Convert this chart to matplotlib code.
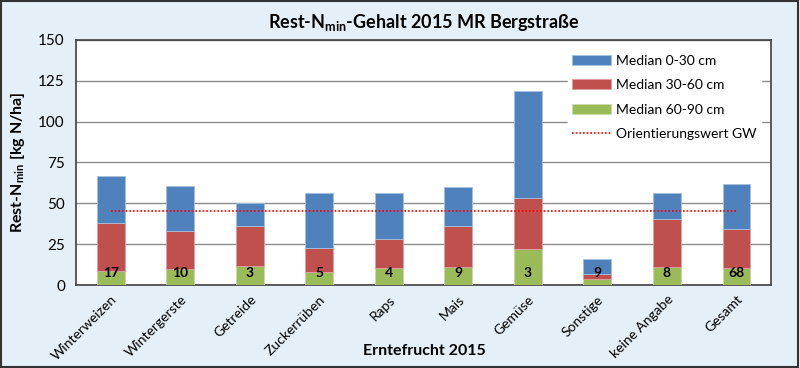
import matplotlib
matplotlib.use("Agg")
import matplotlib.pyplot as plt
import numpy as np
from matplotlib.patches import Rectangle

plt.rcParams['font.family'] = ['Lato', 'DejaVu Sans']

categories = ["Winterweizen", "Wintergerste", "Getreide", "Zuckerrüben", "Raps",
              "Mais", "Gemüse", "Sonstige", "keine Angabe", "Gesamt"]
# cumulative tops
top_total = [66.7, 60.4, 50.0, 56.1, 56.3, 59.8, 119.0, 15.9, 56.3, 61.8]
top_red = [37.8, 32.9, 35.9, 22.9, 28.4, 35.9, 53.1, 6.9, 40.2, 34.5]
median_60_90 = [8.8, 9.8, 11.8, 7.8, 10.6, 10.8, 21.8, 3.9, 10.8, 10.6]
median_30_60 = [r - g for r, g in zip(top_red, median_60_90)]
median_0_30 = [t - r for t, r in zip(top_total, top_red)]
counts = ["17", "10", "3", "5", "4", "9", "3", "9", "8", "68"]
orientierungswert = 45

blue = "#4F81BD"
red = "#C0504D"
green = "#9BBB59"
bg = "#E5EFF8"

fig = plt.figure(figsize=(8, 3.68), dpi=100, facecolor=bg)
fig.patches.append(Rectangle((0.001, 0.002), 0.997, 0.995, transform=fig.transFigure,
                             fill=False, edgecolor="#333333", linewidth=1.5))
ax = fig.add_axes([0.095, 0.2255, 0.869, 0.666])
ax.set_facecolor("white")

x = np.arange(len(categories))
w = 0.4
h_green = ax.bar(x, median_60_90, w, color=green, edgecolor="#C9DBA8", linewidth=0.6,
                 label="Median 60-90 cm", zorder=3)
h_red = ax.bar(x, median_30_60, w, bottom=median_60_90, color=red, edgecolor="#DDA09E",
               linewidth=0.6, label="Median 30-60 cm", zorder=3)
h_blue = ax.bar(x, median_0_30, w, bottom=top_red, color=blue, edgecolor="#A7C0DE",
                linewidth=0.6, label="Median 0-30 cm", zorder=3)
h_line, = ax.plot([x[0], x[-1]], [orientierungswert] * 2, color="red",
                  linestyle=(0, (1, 1.2)), linewidth=1.2,
                  label="Orientierungswert GW", zorder=4)

for xi, c in zip(x, counts):
    ax.text(xi, 7.5, c, ha="center", va="center", fontsize=10, fontweight="bold",
            color="black", zorder=5)

ax.set_xlim(-0.5, len(categories) - 0.5)
ax.set_ylim(0, 150)
ax.set_yticks(np.arange(0, 151, 25))
ax.yaxis.grid(True, color="#8C8C8C", linewidth=1, zorder=0)
ax.set_axisbelow(True)
ax.tick_params(axis="y", length=0, labelsize=11, pad=8)
ax.tick_params(axis="x", length=0, labelsize=10, pad=6)
ax.set_xticks(x)
ax.set_xticklabels(categories, rotation=45, ha="right", rotation_mode="anchor")
for s in ax.spines.values():
    s.set_color("#404040")
    s.set_linewidth(1.2)

ax.set_ylabel("Rest-N$_{\\mathregular{min}}$ [kg N/ha]", fontsize=11.5, fontweight="bold",
              labelpad=8)
fig.text(0.53, 0.045, "Erntefrucht 2015", ha="center", va="center",
         fontsize=11.5, fontweight="bold")
fig.text(0.53, 0.94, "Rest-N$_{\\mathregular{min}}$-Gehalt 2015 MR Bergstraße",
         ha="center", va="center", fontsize=13, fontweight="bold")

leg = ax.legend([h_blue, h_red, h_green, h_line],
                ["Median 0-30 cm", "Median 30-60 cm", "Median 60-90 cm",
                 "Orientierungswert GW"],
                loc="upper right", bbox_to_anchor=(0.995, 0.985), frameon=True,
                fontsize=10, handlelength=2.8, labelspacing=0.9, borderpad=0.3,
                handletextpad=0.4)
leg.get_frame().set_facecolor("white")
leg.get_frame().set_edgecolor("white")
leg.get_frame().set_alpha(1)
leg.set_zorder(6)

fig.savefig("out.png", dpi=100, facecolor=bg)
